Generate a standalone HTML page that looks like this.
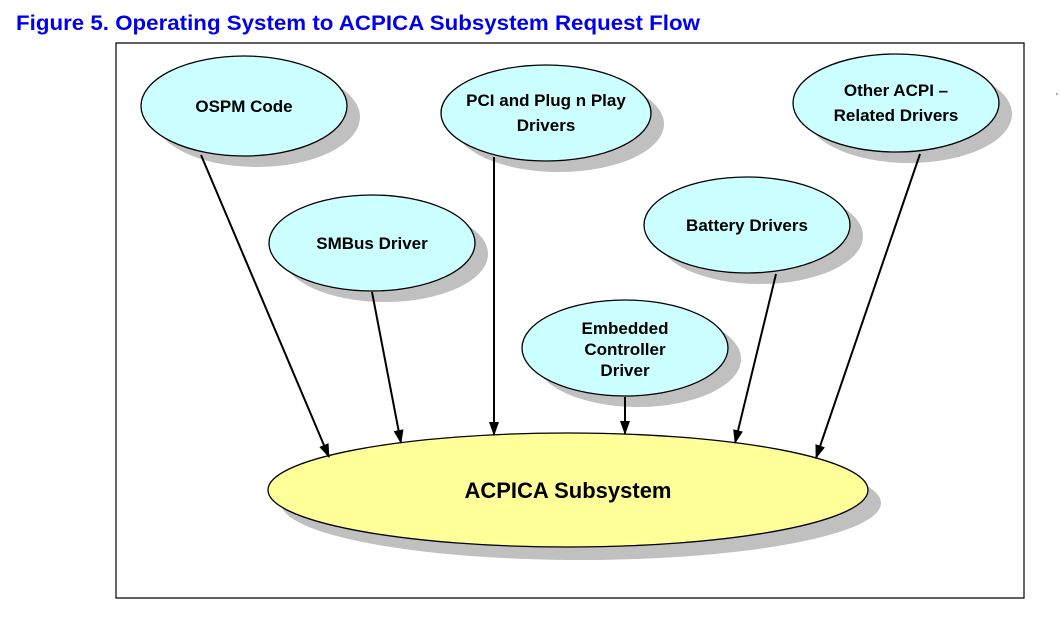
<!DOCTYPE html>
<html><head><style>
body{margin:0;background:#fff;width:1061px;height:625px;overflow:hidden;font-family:"Liberation Sans",sans-serif}
</style></head><body>
<svg width="1061" height="625" xmlns="http://www.w3.org/2000/svg" style="position:absolute;left:0;top:0">
<defs><marker id="a" markerWidth="14" markerHeight="12" refX="13" refY="6" orient="auto" markerUnits="userSpaceOnUse" viewBox="0 0 14 12"><path d="M0,1 L14,6 L0,11 Z" fill="#000"/></marker></defs>
<text x="16" y="30" font-size="21" font-weight="bold" fill="#0000ee" font-family="Liberation Sans, sans-serif" textLength="684" lengthAdjust="spacingAndGlyphs">Figure 5. Operating System to ACPICA Subsystem Request Flow</text>
<path d="M116,43 H1024 V598 H116 Z" fill="none" stroke="#000" stroke-width="1.2"/>
<g fill="#c0c0c0">
<ellipse cx="257" cy="117" rx="103" ry="50"/>
<ellipse cx="559" cy="124" rx="105" ry="48"/>
<ellipse cx="909" cy="114" rx="103" ry="49"/>
<ellipse cx="385" cy="254" rx="103" ry="48"/>
<ellipse cx="760" cy="236" rx="103" ry="48"/>
<ellipse cx="638" cy="359" rx="103" ry="48"/>
<ellipse cx="581" cy="503" rx="300" ry="57"/>
</g>
<g stroke="#000" stroke-width="1.3">
<ellipse cx="244" cy="106" rx="103" ry="50" fill="#ccffff"/>
<ellipse cx="546" cy="113" rx="105" ry="48" fill="#ccffff"/>
<ellipse cx="896" cy="103" rx="103" ry="49" fill="#ccffff"/>
<ellipse cx="372" cy="243" rx="103" ry="48" fill="#ccffff"/>
<ellipse cx="747" cy="225" rx="103" ry="48" fill="#ccffff"/>
<ellipse cx="625" cy="348" rx="103" ry="48" fill="#ccffff"/>
<ellipse cx="568" cy="490" rx="300" ry="57" fill="#ffff99"/>
</g>
<g stroke="#000" stroke-width="2" marker-end="url(#a)">
<line x1="201" y1="155" x2="329" y2="457"/>
<line x1="372" y1="292" x2="401" y2="443"/>
<line x1="494" y1="157" x2="494" y2="435"/>
<line x1="625" y1="397" x2="625" y2="434"/>
<line x1="776" y1="274" x2="735" y2="443"/>
<line x1="920" y1="154" x2="816" y2="458"/>
</g>
<g font-size="17" font-weight="bold" text-anchor="middle" fill="#000">
<text x="244" y="112">OSPM Code</text>
<text x="546" y="106">PCI and Plug n Play</text>
<text x="546" y="131">Drivers</text>
<text x="896" y="96">Other ACPI –</text>
<text x="896" y="121">Related Drivers</text>
<text x="372" y="249">SMBus Driver</text>
<text x="747" y="231">Battery Drivers</text>
<text x="625" y="334">Embedded</text>
<text x="625" y="355">Controller</text>
<text x="625" y="376">Driver</text>
<text x="568" y="498" font-size="22">ACPICA Subsystem</text>
</g>
<text x="1056" y="100" font-size="10" fill="#d00">'</text>
</svg>
</body></html>
